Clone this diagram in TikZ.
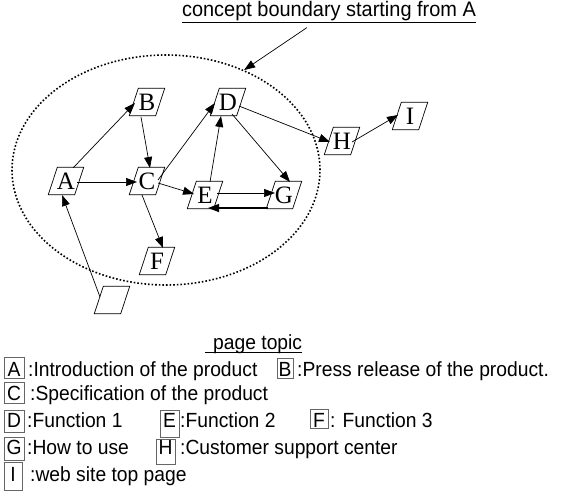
\documentclass[tikz,border=0pt]{standalone}
\usepackage{fontspec}
\setmainfont{Liberation Serif}
\newfontfamily\arialf[FakeStretch=0.94]{Liberation Sans}
\newfontfamily\arialt[FakeStretch=0.95]{Liberation Sans}
\usetikzlibrary{arrows.meta,calc,shapes.geometric}
\begin{document}
\begin{tikzpicture}[x=1pt,y=-1pt,
  page/.style={rectangle, minimum height=27pt, minimum width=35pt, inner sep=0pt,
    font=\fontsize{25}{25}\selectfont},
  pageedge/.style={draw, line width=0.7pt},
  link/.style={line width=0.7pt, -{Triangle[length=11pt,width=8pt]}},
  keybox/.style={draw=black!60, line width=0.7pt, inner sep=0pt, anchor=base,
    font=\arialf\fontsize{20.5}{21}\selectfont},
  keytext/.style={anchor=base west, inner sep=0pt,
    font=\arialf\fontsize{20.5}{21}\selectfont},
]
\useasboundingbox (0,0) rectangle (561,494);

% title
\node[anchor=base, inner sep=0pt, font=\arialt\fontsize{21}{21}\selectfont] (title) at (329,17) {concept boundary starting from A};
\draw[line width=1.3pt] ($(title.south west)+(0,1)$) -- ($(title.south east)+(0,1)$);

% boundary
\node[ellipse, draw, line width=1.6pt, dash pattern=on 1.6pt off 2pt,
  minimum width=308pt, minimum height=230pt, inner sep=0pt] (bound) at (166,170) {};
\draw[link] ($(title.south)+(-22,6)$) -- (bound.52);

% pages
\node[page] (A) at (66,181) {A};
\node[page] (B) at (147,102) {B};
\node[page] (C) at (147,181) {C};
\node[page] (D) at (228,102) {D};
\node[page] (E) at (205,195) {E};
\node[page] (G) at (284,195) {G};
\node[page] (H) at (342,141) {H};
\node[page] (I) at (410,116) {I};
\node[page] (F) at (157,261) {F};
\node[page] (U) at (112,300) {};
\foreach \n in {A,B,C,D,E,G,H,I,F,U}
  \draw[pageedge] (\n.south west) -- ($(\n.south east)+(-9,0)$) -- (\n.north east) -- ($(\n.north west)+(9,0)$) -- cycle;

% links
\draw[link] ($(A)+(7,-13)$) -- ($(B)+(-12,1)$);
\draw[link] ($(A)+(11,1)$) -- ($(C)+(-10,1)$);
\draw[link] ($(B)+(-6,15)$) -- ($(C)+(3,-13)$);
\draw[link] ($(C)+(11,-1)$) -- ($(D)+(-13,1)$);
\draw[link] ($(C)+(11,2)$) -- ($(E)+(-11,-1)$);
\draw[link] ($(E)+(5,-13)$) -- ($(D)+(-7,14)$);
\draw[link] ($(D)+(4,12)$) -- ($(G)+(6,-13)$);
\draw[link] ($(D)+(11,4)$) -- ($(H)+(-12,1)$);
\draw[link] ($(H)+(10,1)$) -- ($(I)+(-12,-1)$);
\draw[link] ($(E)+(12,-2)$) -- ($(G)+(-9,-2)$);
\draw[link, line width=1.2pt] ($(G)+(-16,13)$) -- ($(E)+(3,13)$);
\draw[link] ($(C)+(-5,14)$) -- ($(F)+(6,-13)$);
\draw[link] ($(U)+(-12,-3)$) -- ($(A)+(-4,14)$);

% legend
\node[keytext] (ptopic) at (213,349) {page topic};
\draw[line width=1pt] ($(ptopic.base west)+(-8,3)$) -- ($(ptopic.base east)+(0,3)$);

\node[keybox, minimum width=20pt, text height=19pt, text depth=2pt] (kA) at (14,376) {A};
\node[keytext] (tA) at (28,376) {:Introduction of the product};
\node[keybox, minimum width=16pt, text height=18pt, text depth=2pt] (kB) at (285,376) {B};
\node[keytext] (tB) at (297,376) {:Press release of the product.};

\node[keybox, minimum width=20pt, text height=18pt, text depth=3pt] (kC) at (14,400) {C};
\node[keytext] (tC) at (30,400) {:Specification of the product};

\node[keybox, minimum width=20pt, text height=17pt, text depth=5pt] (kD) at (14,427) {D};
\node[keytext] (tD) at (27,427) {:Function 1};
\node[keybox, minimum width=19pt, text height=17pt, text depth=10pt] (kE) at (169.5,427) {E};
\node[keytext] (tE) at (180,427) {:Function 2};
\node[keybox, minimum width=18pt, text height=18pt, text depth=1pt] (kF) at (319,427) {F};
\node[keytext] (tF) at (330,427) {: Function 3};

\node[keybox, minimum width=20pt, text height=17pt, text depth=6pt] (kG) at (14,454) {G};
\node[keytext] (tG) at (27,454) {:How to use};
\node[keybox, minimum width=19pt, text height=15pt, text depth=10pt] (kH) at (165.5,454) {H};
\node[keytext] (tH) at (180,454) {:Customer support center};

\node[keybox, minimum width=18pt, text height=19pt, text depth=9pt] (kI) at (13,481) {I};
\node[keytext] (tI) at (30,481) {:web site top page};
\end{tikzpicture}
\end{document}
